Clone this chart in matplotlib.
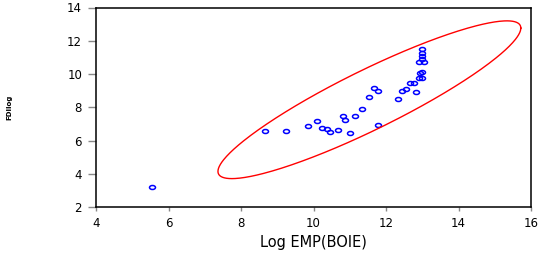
import numpy as np
import matplotlib
matplotlib.use("Agg")
import matplotlib.pyplot as plt
from matplotlib.path import Path

# values
log_emp = [5.55, 8.65, 9.25, 9.86, 10.10, 10.23, 10.37, 10.46, 10.68, 10.80,
           10.88, 11.00, 11.14, 11.77, 11.33, 11.53, 11.68, 11.78, 12.33, 12.44,
           12.55, 12.65, 12.77, 12.83, 12.92, 12.98, 12.93, 12.98, 12.92, 13.06,
           13.00, 13.00, 13.00, 13.00]
fdi_log = [3.20, 6.60, 6.55, 6.86, 7.20, 6.78, 6.72, 6.52, 6.66, 7.46,
           7.22, 6.46, 7.45, 6.92, 7.89, 8.59, 9.13, 8.97, 8.49, 8.97,
           9.09, 9.43, 9.47, 8.89, 9.75, 9.78, 10.05, 10.10, 10.73, 10.70,
           10.92, 11.08, 11.24, 11.50]
x_ticks = [4, 6, 8, 10, 12, 14, 16]
y_ticks = [2, 4, 6, 8, 10, 12, 14]
ellipse_k = 2.55  # scale of the concentration ellipse

plt.rcParams['font.family'] = ['DejaVu Sans']

fig = plt.figure(figsize=(5.45, 2.54), dpi=100)
ax = fig.add_axes([96 / 545, 1 - 207 / 254, 435 / 545, 199.5 / 254])

# small wide oval markers like the original
oval = Path(Path.unit_circle().vertices * [1.5, 1.0], Path.unit_circle().codes)
ax.plot(log_emp, fdi_log, linestyle='none', marker=oval, markersize=4.3,
        markerfacecolor='none', markeredgecolor='#0000ff', markeredgewidth=1.1)

# ellipse from the data mean and covariance
xy = np.array([log_emp, fdi_log])
mean = xy.mean(axis=1)
chol = np.linalg.cholesky(np.cov(xy))
t = np.linspace(0, 2 * np.pi, 400)
ring = mean[:, None] + ellipse_k * chol @ np.vstack([np.cos(t), np.sin(t)])
ax.plot(ring[0], ring[1], color='#ff0000', linewidth=1.0)

ax.set_xlim(4, 16)
ax.set_ylim(2, 14)
ax.set_xticks(x_ticks)
ax.set_yticks(y_ticks)
ax.tick_params(axis='y', length=6, width=1, color='#888888', pad=4, labelsize=8.5)
ax.tick_params(axis='x', length=3, width=1, color='#888888', pad=4, labelsize=8.5)
for s in ax.spines.values():
    s.set_linewidth(1.1)
    s.set_color('black')

ax.set_xlabel('Log EMP(BOIE)', fontsize=10.5)
ax.xaxis.set_label_coords(0.5, -0.14)
ax.set_ylabel('FDIlog', fontsize=5, fontweight='bold')
ax.yaxis.set_label_coords(-0.193, 0.5)

fig.savefig('out.png', dpi=100)
